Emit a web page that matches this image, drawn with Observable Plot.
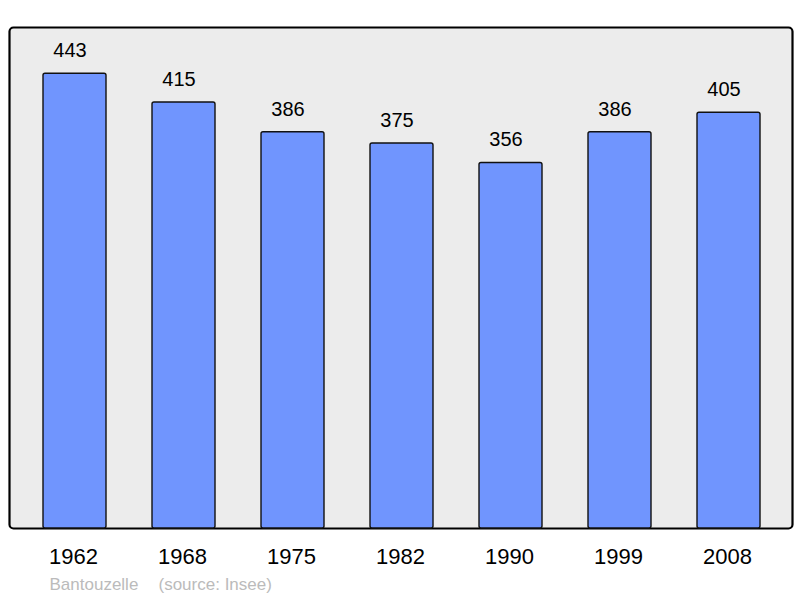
<!DOCTYPE html>
<html>
<head>
<meta charset="utf-8">
<script src="https://cdn.jsdelivr.net/npm/d3@7"></script>
<script src="https://cdn.jsdelivr.net/npm/@observablehq/plot@0.6"></script>
<style>
  html, body { margin: 0; padding: 0; background: #fff; }
  svg { display: block; }
</style>
</head>
<body>
<div id="chart"></div>
<script>
const years = ["1962", "1968", "1975", "1982", "1990", "1999", "2008"];
const population = [443, 415, 386, 375, 356, 386, 405];
const placeName = "Bantouzelle";
const sourceNote = "(source: Insee)";

const data = years.map((y, i) => ({year: y, value: population[i]}));

const chart = Plot.plot({
  width: 800,
  height: 598,
  marginLeft: 9,
  marginRight: 8,
  marginTop: 27,
  marginBottom: 70,
  style: {fontFamily: "'Liberation Sans', Arial, sans-serif", background: "#fff"},
  x: {domain: years, range: [18.5, 785], paddingInner: 0.425, paddingOuter: 0.2125, align: 0.5, label: null},
  y: {domain: [0, 488], axis: null},
  marks: [
    Plot.frame({fill: "#ececec", stroke: "#000", strokeWidth: 2.2, rx: 4}),
    Plot.barY(data, {x: "year", y: "value", fill: "#7095fe", stroke: "#111", strokeWidth: 1.4, rx: 2}),
    Plot.text(data, {x: "year", y: "value", text: d => String(d.value), dx: -5, dy: -23, fontSize: 20, fill: "#000"}),
    Plot.axisX({tickSize: 0, tickPadding: 20, fontSize: 22, dx: -1.5, label: null, fill: "#000", color: "#000"}),
    Plot.text([placeName], {frameAnchor: "bottom-left", text: d => d, dx: 40, dy: 61, fontSize: 17, fill: "#bbbbbb", textAnchor: "start"}),
    Plot.text([sourceNote], {frameAnchor: "bottom-left", text: d => d, dx: 149, dy: 61, fontSize: 17, fill: "#bbbbbb", textAnchor: "start"})
  ]
});
document.getElementById("chart").appendChild(chart);
</script>
</body>
</html>
